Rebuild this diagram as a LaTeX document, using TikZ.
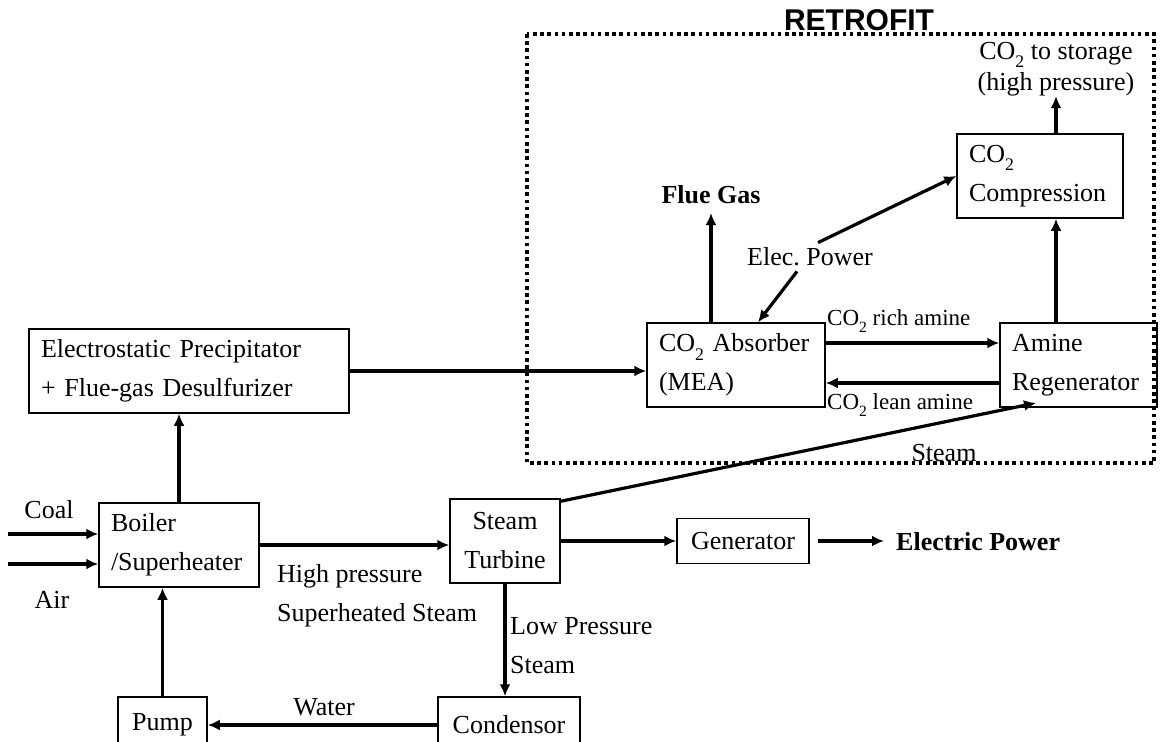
\documentclass[tikz,border=0pt]{standalone}
\usepackage{fontspec}
\setmainfont{Liberation Serif}
\newfontfamily\headfont{Liberation Sans}
\usetikzlibrary{arrows.meta}
\newcommand{\cotwo}{CO\raisebox{-0.32em}{\scalebox{0.68}{2}}}
\tikzset{
  unit/.style={draw,line width=1.5pt,inner xsep=12pt,inner ysep=0pt,align=left,minimum height=84pt},
  lbl/.style={inner sep=1pt},
  flow/.style={line width=3.2pt,-{Latex[length=12pt,width=11pt]}},
  retro/.style={line width=3.6pt,dash pattern=on 3.6pt off 3.6pt}
}
\begin{document}
\frenchspacing
\begin{tikzpicture}[x=1pt,y=-1pt,font=\fontsize{26pt}{39pt}\selectfont]
        \useasboundingbox (0,0) rectangle (1160,742);
        \draw[retro] (527,34) rectangle (1154,463);
        \node(retrofit)[lbl,font=\fontsize{30pt}{36pt}\selectfont\headfont\bfseries] at (859,20){RETROFIT};
        \node(esp)[unit,text width=296pt] at (189,371){Electrostatic Precipitator\\+ Flue-gas Desulfurizer};
        \node(boiler)[unit,text width=136pt] at (179,545){Boiler\\/Superheater};
        \node(turbine)[unit,align=center,text width=86pt] at (505,541){Steam\\Turbine};
        \node(generator)[unit,align=center,text width=108pt,minimum height=45pt] at (743,541){Generator};
        \node(condensor)[unit,align=center,text width=118pt,minimum height=56pt] at (509,725){Condensor};
        \node(pump)[unit,align=center,text width=65pt,minimum height=56pt] at (162.5,725){Pump};
        \node(absorber)[unit,text width=154pt] at (736,365){\cotwo{} Absorber\\(MEA)};
        \node(regen)[unit,text width=133pt] at (1078.5,365){Amine\\Regenerator};
        \node(comp)[unit,text width=142pt] at (1040,176){\cotwo\\Compression};
        \node(storage)[lbl,inner sep=0pt,align=center,font=\fontsize{26pt}{31pt}\selectfont] at (1056,69){\cotwo{} to storage\\(high pressure)};
        \node(flue)[lbl,inner xsep=0pt,inner ysep=9pt,anchor=south,font=\fontsize{26pt}{39pt}\selectfont\bfseries] at (711,213){Flue Gas};
        \node(elec)[lbl,inner ysep=5pt] at (810,257){Elec. Power};
        \node(rich)[lbl,anchor=west,font=\fontsize{23pt}{28pt}\selectfont] at (826,321){\cotwo{} rich amine};
        \node(lean)[lbl,anchor=west,font=\fontsize{23pt}{28pt}\selectfont] at (826,405){\cotwo{} lean amine};
        \node(steam)[lbl] at (944,453){Steam};
        \node(coal)[lbl] at (49,510){Coal};
        \node(air)[lbl] at (52,600){Air};
        \node(hp)[lbl,anchor=west,align=left] at (276,596){High pressure\\Superheated Steam};
        \node(lp)[lbl,anchor=west,align=left] at (509,646){Low Pressure\\Steam};
        \node(water)[lbl] at (324,707){Water};
        \node(power)[lbl,anchor=west,font=\fontsize{26pt}{39pt}\selectfont\bfseries] at (895,542){Electric Power};
        \coordinate(coalin) at (8,534);
        \coordinate(airin) at (8,564);
        \coordinate(steamin) at (1036,403);
        \draw[flow] (coalin) -- (coalin -| boiler.west);
        \draw[flow] (airin) -- (airin -| boiler.west);
        \draw[flow] (boiler.north) -- (boiler.north |- esp.south);
        \draw[flow] (esp.east) -- (esp.east -| absorber.west);
        \draw[flow] (boiler.east) -- (boiler.east -| turbine.west);
        \draw[flow] (turbine.east) -- (turbine.east -| generator.west);
        \draw[flow,shorten >=11pt] ([xshift=8pt]generator.east) -- (generator.east -| power.west);
        \draw[flow] (turbine.south) -- (turbine.south |- condensor.north);
        \draw[flow] (condensor.west) -- (pump.east);
        \draw[flow] (pump.north) -- (pump.north |- boiler.south);
        \draw[flow] ([yshift=-3pt]turbine.north east) -- (steamin);
        \draw[flow] (flue.south |- absorber.north) -- (flue.south);
        \draw[flow] (storage.south |- regen.north) -- (storage.south |- comp.south);
        \draw[flow] (storage.south |- comp.north) -- (storage.south);
        \draw[flow] ([xshift=8pt]elec.north) -- (comp.west);
        \draw[flow] ([xshift=-13pt]elec.south) -- ([xshift=22pt]absorber.north);
        \draw[flow] ([yshift=22pt]absorber.east) -- ([yshift=22pt]regen.west);
        \draw[flow] ([yshift=-18pt]regen.west) -- ([yshift=-18pt]absorber.east);
\end{tikzpicture}
\end{document}
